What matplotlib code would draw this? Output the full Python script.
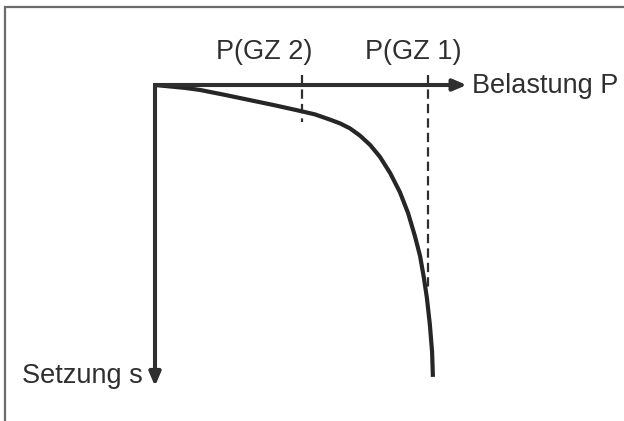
import matplotlib
matplotlib.use("Agg")
import matplotlib.pyplot as plt

plt.rcParams["font.family"] = ["Liberation Sans", "DejaVu Sans"]

# Load-settlement curve (load P normalised to P(GZ 1) = 1, settlement s to final value = 1)
load_P = [0.0, 0.055, 0.110, 0.165, 0.256, 0.348, 0.440, 0.531, 0.586, 0.641,
          0.678, 0.714, 0.751, 0.788, 0.824, 0.861, 0.897, 0.927, 0.952, 0.971,
          0.985, 0.996, 1.007, 1.015, 1.018]
settlement_s = [0.0, 0.005, 0.010, 0.017, 0.034, 0.052, 0.070, 0.089, 0.101, 0.119,
                0.132, 0.149, 0.174, 0.206, 0.247, 0.302, 0.368, 0.440, 0.519, 0.588,
                0.663, 0.732, 0.825, 0.918, 1.003]

# Limit-state loads and the settlement where the marker lines stop
limit_labels = ["P(GZ 2)", "P(GZ 1)"]
limit_loads = [0.538, 1.0]
limit_s_end = [0.127, 0.70]
label_shift = [-0.138, -0.055]

axis_labels = ["Belastung P", "Setzung s"]

px_per_P = 273.0
px_per_s = 291.0
x0, y0 = 155.0, 85.0
W, H = 624, 421

fig = plt.figure(figsize=(W / 100, H / 100), dpi=100)
ax = fig.add_axes([0, 0, 1, 1])
ax.set_xlim(-x0 / px_per_P, (W - x0) / px_per_P)
ax.set_ylim((H - y0) / px_per_s, -y0 / px_per_s)
ax.axis("off")

dark = "#2f2f2f"

# outer frame (only top and left edges fall inside the image)
fx = (4.5 - x0) / px_per_P
fy = (6.5 - y0) / px_per_s
ax.plot([fx, fx, 2.0], [1.3, fy, fy], color="#6b6b6b", lw=1.6,
        solid_joinstyle="miter")

# coordinate axes with arrows
p_tip = 1.142
s_tip = 1.035
ax.plot([p_tip - 0.03, 0, 0], [0, 0, s_tip - 0.03], color=dark, lw=2.9,
        solid_joinstyle="miter", solid_capstyle="butt")
for xy in [(p_tip, 0), (0, s_tip)]:
    ax.annotate("", xy=xy, xytext=(0, 0),
                arrowprops=dict(arrowstyle="-|>,head_length=0.8,head_width=0.34",
                                color=dark, lw=2.9, shrinkA=0, shrinkB=0))

# dashed limit-state markers
for P, s_end in zip(limit_loads, limit_s_end):
    ax.plot([P, P], [-0.034, s_end], color=dark, lw=1.6, dashes=(4.2, 2.3))

# curve
ax.plot(load_P, settlement_s, color="#262626", lw=3.0, solid_capstyle="butt",
        solid_joinstyle="round")

fs = 19.5
for lab, P, dx in zip(limit_labels, limit_loads, label_shift):
    ax.text(P + dx, -0.088, lab, ha="center", va="baseline", fontsize=fs,
            color=dark)
ax.text(1.163, 0.005, axis_labels[0], ha="left", va="center", fontsize=fs,
        color=dark)
ax.text(-0.045, 1.0, axis_labels[1], ha="right", va="center", fontsize=fs,
        color=dark)

fig.savefig("out.png", dpi=100)
